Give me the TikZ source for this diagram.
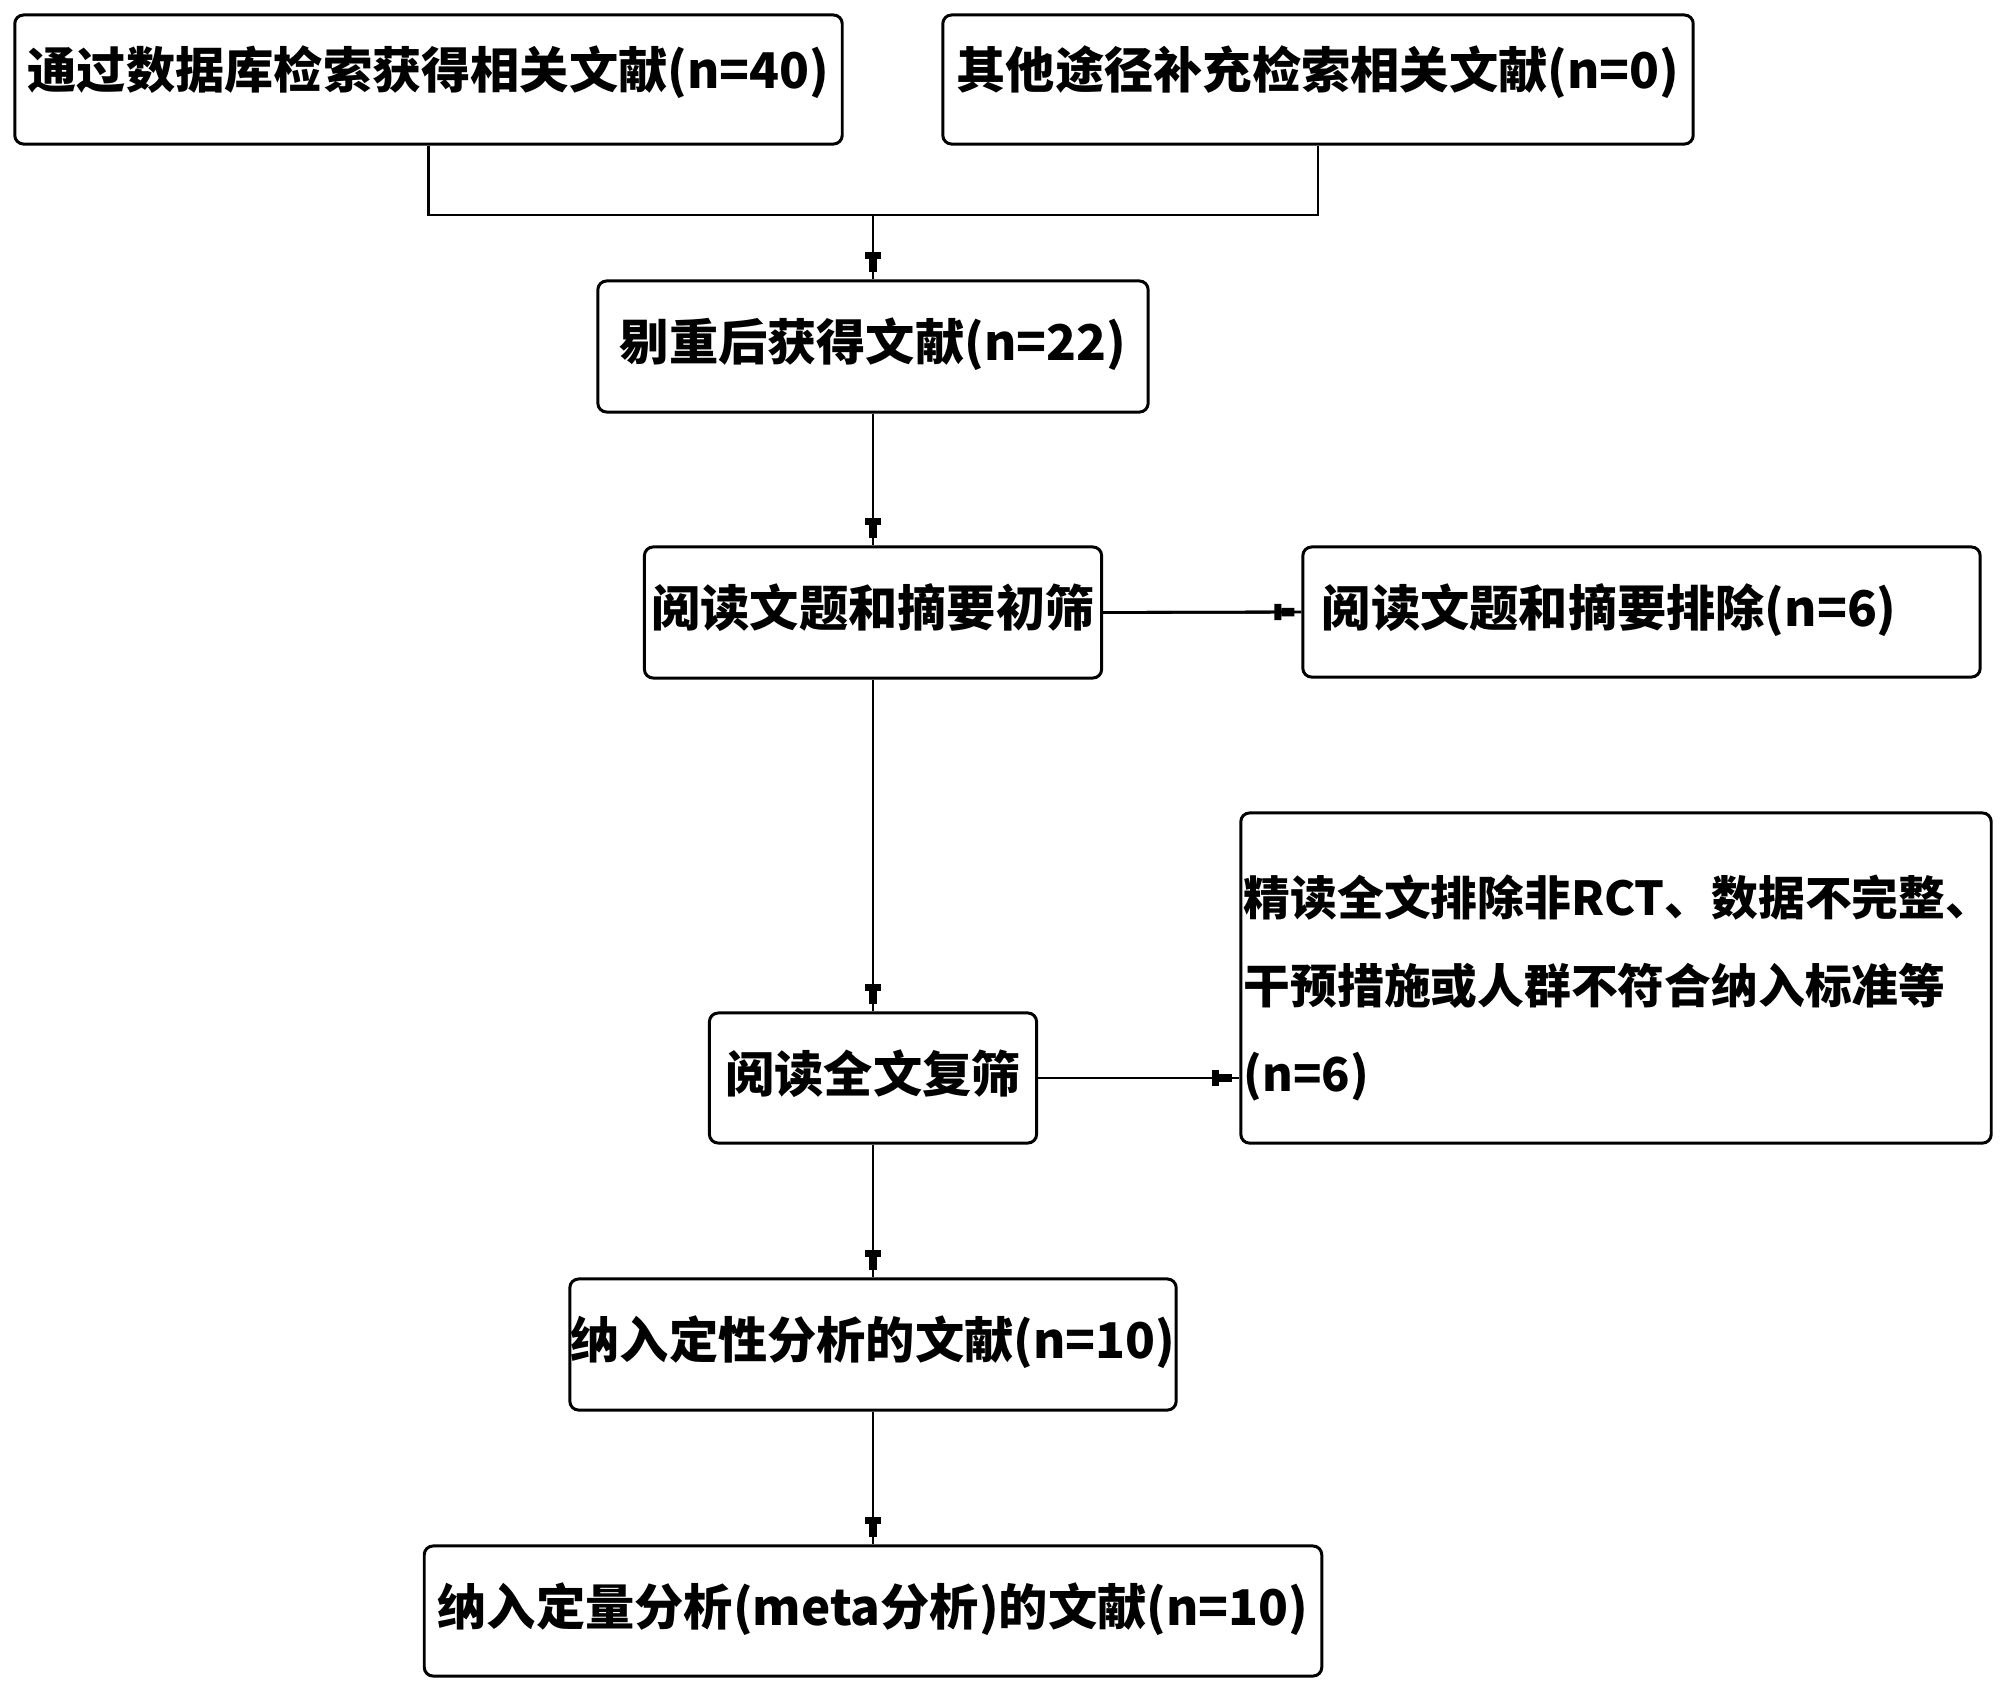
\documentclass[tikz,border=0pt]{standalone}
\usepackage{fontspec}
\setmainfont{Noto Sans CJK SC}
\usetikzlibrary{arrows.meta}
\begin{document}
\begin{tikzpicture}[x=0.01cm,y=-0.01cm,
  boxbase/.style={draw, line width=0.85pt, rounded corners=2.5pt, inner sep=0pt,
    font=\fontsize{14pt}{25pt}\selectfont\bfseries},
  box/.style={boxbase, align=center, text height=11pt, text depth=3pt},
  line/.style={line width=0.8pt},
  conn/.style={line, postaction={draw, line width=0.8pt, shorten >=0.07cm,
    -{Rectangle[length=2pt,width=4.6pt] Rectangle[length=3.7pt,width=2.4pt]}}}]
\useasboundingbox (0,0) rectangle (2000,1687);
\node[box, minimum width=8.27cm, minimum height=1.29cm, text depth=5.8pt] (b1) at (428.5,79.5) {通过数据库检索获得相关文献(n=40)};
\node[box, minimum width=7.5cm, minimum height=1.29cm, text depth=5.8pt] (b2) at (1318,79.5) {其他途径补充检索相关文献(n=0)};
\node[box, minimum width=5.5cm, minimum height=1.31cm] (b3) at (873,346.5) {剔重后获得文献(n=22)};
\node[box, minimum width=4.57cm, minimum height=1.31cm] (b4) at (873,612.5) {阅读文题和摘要初筛};
\node[box, align=left, text width=6.39cm, inner xsep=0.19cm, minimum height=1.3cm] (b5) at (1641.5,612) {阅读文题和摘要排除(n=6)};
\node[box, minimum width=3.27cm, minimum height=1.3cm] (b6) at (873,1078) {阅读全文复筛};
\node[boxbase, align=left, text width=7.44cm, inner xsep=0.03cm, minimum height=3.3cm,
  font=\fontsize{13.3pt}{25pt}\selectfont\bfseries] (b7) at (1616,978) {\rule{0pt}{17pt}精读全文排除非RCT、数据不完整、\\干预措施或人群不符合纳入标准等\\(n=6)};
\node[box, minimum width=6.06cm, minimum height=1.31cm] (b8) at (873,1344.5) {纳入定性分析的文献(n=10)};
\node[box, minimum width=8.97cm, minimum height=1.3cm] (b9) at (873,1611) {纳入定量分析(meta分析)的文献(n=10)};
\coordinate (j) at (873,215);
\draw[line] (b1.south) |- (j) -| (b2.south);
\draw[conn] (j) -- (b3.north);
\draw[conn] (b3.south) -- (b4.north);
\draw[conn] (b4.east) -- (b5.west);
\draw[conn] (b4.south) -- (b6.north);
\draw[conn] (b6.east) -- (b6.east -| b7.west);
\draw[conn] (b6.south) -- (b8.north);
\draw[conn] (b8.south) -- (b9.north);
\end{tikzpicture}
\end{document}
